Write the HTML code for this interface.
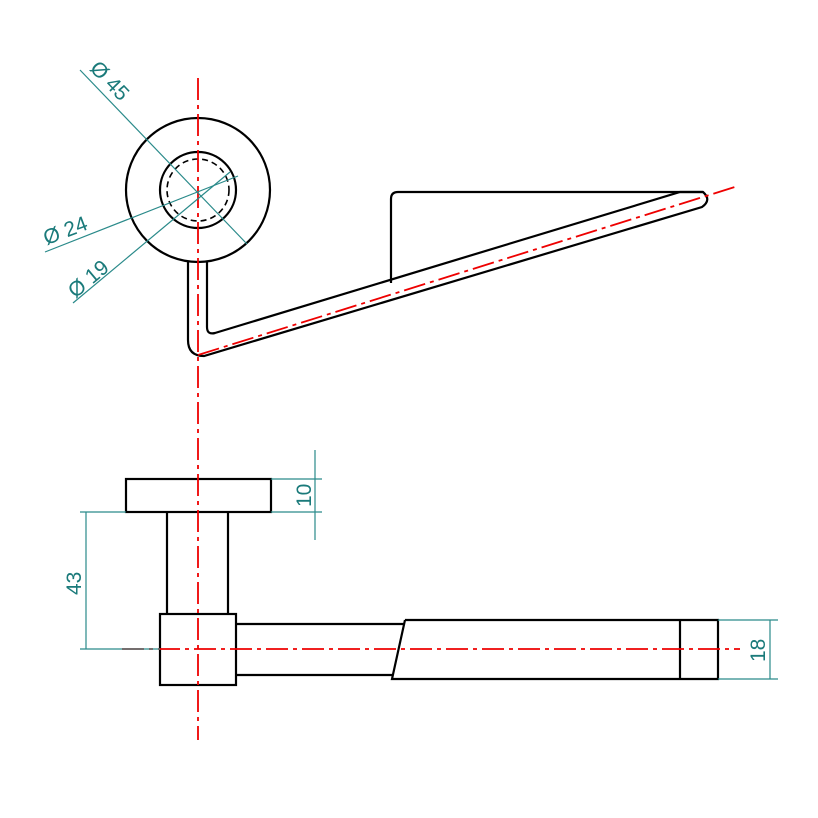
<!DOCTYPE html>
<html><head><style>body{margin:0;background:#fff}svg{display:block}</style></head><body>
<svg width="818" height="818" viewBox="0 0 818 818" xmlns="http://www.w3.org/2000/svg" font-family="Liberation Sans, sans-serif">
<g fill="none" stroke="#000" stroke-width="2.2">
<circle cx="198" cy="190" r="72"/>
<circle cx="198" cy="190" r="38"/>
<circle cx="198" cy="190" r="31" stroke-dasharray="6,4" stroke-width="1.6"/>
<path d="M188 262 V340 Q188 356 204 356 L702 207 Q712 200 703 192 H680 L215 333 Q207 335 207 327 V262"/>
<path d="M391 283 V199 Q391 192 398 192 H703"/>
<rect x="126" y="479" width="145" height="33"/>
<path d="M167 512 V614 M228 512 V614"/>
<rect x="160" y="614" width="76" height="71"/>
<path d="M236 624 H405 M236 675 H392 M405 620 H718 V679 H392 L405 620 M680 620 V679"/>
</g>
<g stroke="#e00" stroke-width="1.8" stroke-dasharray="22,5,4,5" fill="none">
<path d="M198 78 V740"/>
<path d="M198 355 L738 186"/>
<path d="M122 649 H740"/>
</g>
<g stroke="#2a8a8a" stroke-width="1.2" fill="none">
<path d="M80 70 L247 244"/>
<path d="M45 252 L238 176"/>
<path d="M73 303 L230 172"/>
<path d="M271 479 H322 M271 512 H322 M315 450 V540"/>
<path d="M80 512 H126 M80 649 H160 M86 512 V649"/>
<path d="M718 620 H778 M718 679 H778 M770 620 V679"/>
</g>
<g fill="#1a7a7a" font-size="21">
<text transform="translate(86,72) rotate(46)" y="-4">Ø 45</text>
<text transform="translate(48,249) rotate(-21)" y="-4">Ø 24</text>
<text transform="translate(78,302) rotate(-40)" y="-4">Ø 19</text>
<text transform="translate(311,507) rotate(-90)">10</text>
<text transform="translate(81,595) rotate(-90)">43</text>
<text transform="translate(765,662) rotate(-90)">18</text>
</g>
</svg>
</body></html>
